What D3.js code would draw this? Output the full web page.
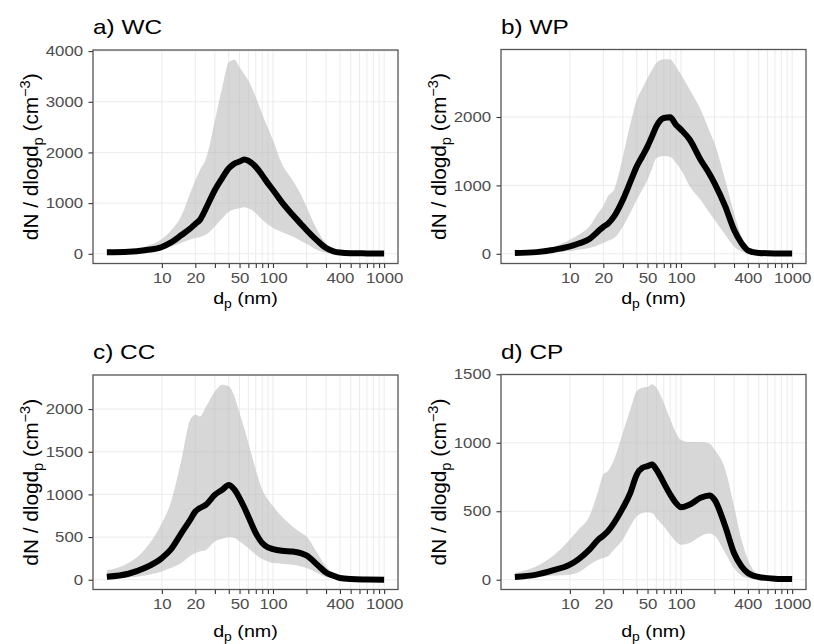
<!DOCTYPE html>
<html>
<head>
<meta charset="utf-8">
<script src="https://cdn.jsdelivr.net/npm/d3@7"></script>
<style>
  body { margin: 0; background: #fff; }
  svg { display: block; font-family: "Liberation Sans", Arial, sans-serif; }
</style>
</head>
<body>
<svg id="chart" width="814" height="644"></svg>
<script>

// particle diameter (nm)
var dp = [3.2, 5, 7, 10, 12, 15, 18, 20, 22, 25, 30, 35, 40, 45, 50, 55, 60, 70, 80, 90,
    100, 120, 150, 180, 200, 250, 300, 350, 400, 500, 700, 1000];

// a) WC
var wcMid = [30, 40, 70, 135, 220, 370, 500, 590, 670, 900, 1260, 1500, 1690, 1780, 1820, 1860, 1835, 1715, 1550, 1390,
    1260, 1020, 770, 580, 470, 260, 115, 50, 25, 12, 8, 5];
var wcHigh = [40, 70, 140, 290, 450, 750, 1200, 1450, 1650, 1880, 2630, 3290, 3780, 3830, 3680, 3550, 3420, 3090, 2760, 2480,
    2240, 1780, 1450, 1150, 930, 470, 210, 110, 60, 25, 15, 10];
var wcLow = [15, 25, 45, 80, 140, 220, 280, 310, 330, 380, 540, 700, 830, 880, 900, 920, 900, 800, 670, 580,
    510, 430, 340, 250, 200, 75, 20, 10, 5, 2, 1, 0];

// b) WP
var wpMid = [10, 24, 55, 107, 150, 215, 330, 395, 440, 546, 790, 1050, 1278, 1430, 1571, 1720, 1863, 1985, 1995, 1888,
    1815, 1668, 1376, 1170, 1034, 693, 351, 156, 49, 12, 5, 3];
var wpHigh = [15, 40, 100, 205, 280, 400, 600, 700, 840, 940, 1420, 1900, 2250, 2420, 2570, 2690, 2790, 2845, 2840, 2740,
    2620, 2400, 2110, 1800, 1620, 1080, 595, 254, 83, 20, 8, 5];
var wpLow = [5, 15, 25, 40, 60, 83, 130, 156, 190, 229, 400, 600, 790, 940, 1083, 1250, 1400, 1430, 1420, 1330,
    1229, 985, 790, 600, 498, 278, 107, 34, 10, 3, 1, 0];

// c) CC
var ccMid = [35, 70, 137, 254, 352, 547, 703, 800, 840, 880, 996, 1055, 1110, 1055, 957, 850, 742, 547, 430, 380,
    360, 340, 330, 310, 285, 176, 86, 47, 20, 8, 3, 0];
var ccHigh = [110, 195, 352, 664, 898, 1406, 1875, 1934, 1914, 2031, 2207, 2285, 2266, 2148, 1953, 1780, 1602, 1289, 1055, 940,
    860, 742, 625, 547, 508, 313, 156, 80, 39, 20, 10, 5];
var ccLow = [10, 25, 50, 98, 137, 195, 280, 313, 332, 352, 449, 480, 500, 488, 449, 410, 371, 293, 242, 215,
    195, 188, 176, 155, 137, 78, 31, 15, 8, 3, 1, 0];

// d) CP
var cpMid = [20, 37, 68, 110, 151, 220, 293, 322, 354, 415, 524, 634, 768, 817, 829, 841, 805, 707, 622, 561,
    529, 549, 598, 615, 585, 390, 195, 98, 49, 20, 8, 5];
var cpHigh = [49, 98, 171, 293, 366, 463, 650, 768, 793, 878, 1073, 1244, 1378, 1402, 1407, 1427, 1402, 1293, 1171, 1073,
    1020, 1005, 1005, 995, 951, 805, 537, 293, 146, 37, 10, 5];
var cpLow = [10, 20, 30, 37, 54, 110, 146, 159, 171, 220, 293, 390, 463, 488, 493, 488, 451, 390, 329, 280,
    256, 268, 317, 337, 322, 195, 85, 29, 12, 3, 1, 0];

var panelTitles = ["a) WC", "b) WP", "c) CC", "d) CP"];
var xTicks = [10, 20, 30, 40, 50, 60, 70, 80, 90, 100, 200, 300, 400, 500, 600, 700, 800, 900, 1000];
var xLabels = [10, 20, 50, 100, 400, 1000];
var yTicksA = [0, 1000, 2000, 3000, 4000];
var yTicksB = [0, 1000, 2000];
var yTicksC = [0, 500, 1000, 1500, 2000];
var yTicksD = [0, 500, 1000, 1500];

var svg = d3.select("#chart");
var sx = 1.16; // text in the figure is a little wider than Liberation Sans

// panel boxes
var panels = [
    {title: panelTitles[0], mid: wcMid, lo: wcLow, hi: wcHigh, yt: yTicksA, left: 93, top: 50, xtY: 304},
    {title: panelTitles[1], mid: wpMid, lo: wpLow, hi: wpHigh, yt: yTicksB, left: 501, top: 49.5, xtY: 304},
    {title: panelTitles[2], mid: ccMid, lo: ccLow, hi: ccHigh, yt: yTicksC, left: 93, top: 375, xtY: 637},
    {title: panelTitles[3], mid: cpMid, lo: cpLow, hi: cpHigh, yt: yTicksD, left: 501, top: 374.5, xtY: 637}
];
var pw = 305;

panels.forEach(function (p) {
    var ph = (p.top < 100 ? 263.5 : 589.5) - p.top;

    var rows = dp.map(function (d, i) {
        return {dp: d, mid: p.mid[i], lo: p.lo[i], hi: p.hi[i]};
    });

    // ggplot style 5% expansion
    var lx0 = Math.log10(dp[0]), lx1 = Math.log10(dp[dp.length - 1]);
    var padX = (lx1 - lx0) * 0.05;
    var x = d3.scaleLog()
        .domain([Math.pow(10, lx0 - padX), Math.pow(10, lx1 + padX)])
        .range([0, pw]);

    var y0 = d3.min(p.lo), y1 = d3.max(p.hi);
    var padY = (y1 - y0) * 0.05;
    var y = d3.scaleLinear()
        .domain([y0 - padY, y1 + padY])
        .range([ph, 0]);

    var g = svg.append("g")
        .attr("transform", "translate(" + p.left + "," + p.top + ")");

    // grid
    g.selectAll(".vgrid")
        .data(xTicks)
        .enter()
        .append("line")
        .attr("x1", function (d) { return x(d); })
        .attr("x2", function (d) { return x(d); })
        .attr("y1", 0)
        .attr("y2", ph)
        .attr("stroke", "#ebebeb")
        .attr("stroke-width", 1);

    g.selectAll(".hgrid")
        .data(p.yt)
        .enter()
        .append("line")
        .attr("x1", 0)
        .attr("x2", pw)
        .attr("y1", function (d) { return y(d); })
        .attr("y2", function (d) { return y(d); })
        .attr("stroke", "#ebebeb")
        .attr("stroke-width", 1);

    // ribbon
    var area = d3.area()
        .curve(d3.curveMonotoneX)
        .x(function (d) { return x(d.dp); })
        .y0(function (d) { return y(d.lo); })
        .y1(function (d) { return y(d.hi); });

    g.append("path")
        .datum(rows)
        .attr("d", area)
        .attr("fill", "#bdbdbd")
        .attr("fill-opacity", 0.6);

    var line = d3.line()
        .curve(d3.curveMonotoneX)
        .x(function (d) { return x(d.dp); })
        .y(function (d) { return y(d.mid); });

    g.append("path")
        .datum(rows)
        .attr("d", line)
        .attr("fill", "none")
        .attr("stroke", "#000")
        .attr("stroke-width", 6)
        .attr("stroke-linejoin", "round")
        .attr("stroke-linecap", "butt");

    // axes
    var yAxis = g.append("g")
        .call(d3.axisLeft(y).tickValues(p.yt).tickSize(4.5).tickPadding(4).tickFormat(d3.format("d")));

    var xAxis = g.append("g")
        .attr("transform", "translate(0," + ph + ")")
        .call(d3.axisBottom(x).tickValues(xTicks).tickSize(4.5).tickPadding(4.5)
            .tickFormat(function (d) {
                return xLabels.indexOf(d) >= 0 ? d : "";
            }));

    [yAxis, xAxis].forEach(function (a) {
        a.select(".domain").remove();
        a.selectAll(".tick line").attr("stroke", "#333").attr("stroke-width", 1.1);
        a.selectAll(".tick text")
            .attr("fill", "#4d4d4d")
            .style("font-size", "14.5px")
            .attr("transform", "scale(" + sx + ",1)");
    });

    // border
    g.append("rect")
        .attr("width", pw)
        .attr("height", ph)
        .attr("fill", "none")
        .attr("stroke", "#555")
        .attr("stroke-width", 1.3);

    // panel title
    svg.append("text")
        .attr("transform", "translate(" + p.left + "," + (p.top - 16) + ") scale(" + sx + ",1)")
        .style("font-size", "21px")
        .attr("fill", "#000")
        .text(p.title);

    // x title
    var xt = svg.append("text")
        .attr("transform", "translate(" + (p.left + pw / 2) + "," + p.xtY + ") scale(" + sx + ",1)")
        .attr("text-anchor", "middle")
        .style("font-size", "17px");
    xt.append("tspan").text("d");
    xt.append("tspan").attr("dy", 4).style("font-size", "12px").text("p");
    xt.append("tspan").attr("dy", -4).text(" (nm)");

    // y title
    var yt = svg.append("text")
        .attr("transform", "translate(" + (p.left - 55) + "," + (p.top + ph / 2) + ") rotate(-90) scale(1.04,1)")
        .attr("text-anchor", "middle")
        .style("font-size", "20px");
    yt.append("tspan").text("dN / dlogd");
    yt.append("tspan").attr("dy", 5).style("font-size", "14px").text("p");
    yt.append("tspan").attr("dy", -5).text(" (cm");
    yt.append("tspan").attr("dy", -8).style("font-size", "14px").text("\u22123");
    yt.append("tspan").attr("dy", 8).text(")");
});

</script>
</body>
</html>
